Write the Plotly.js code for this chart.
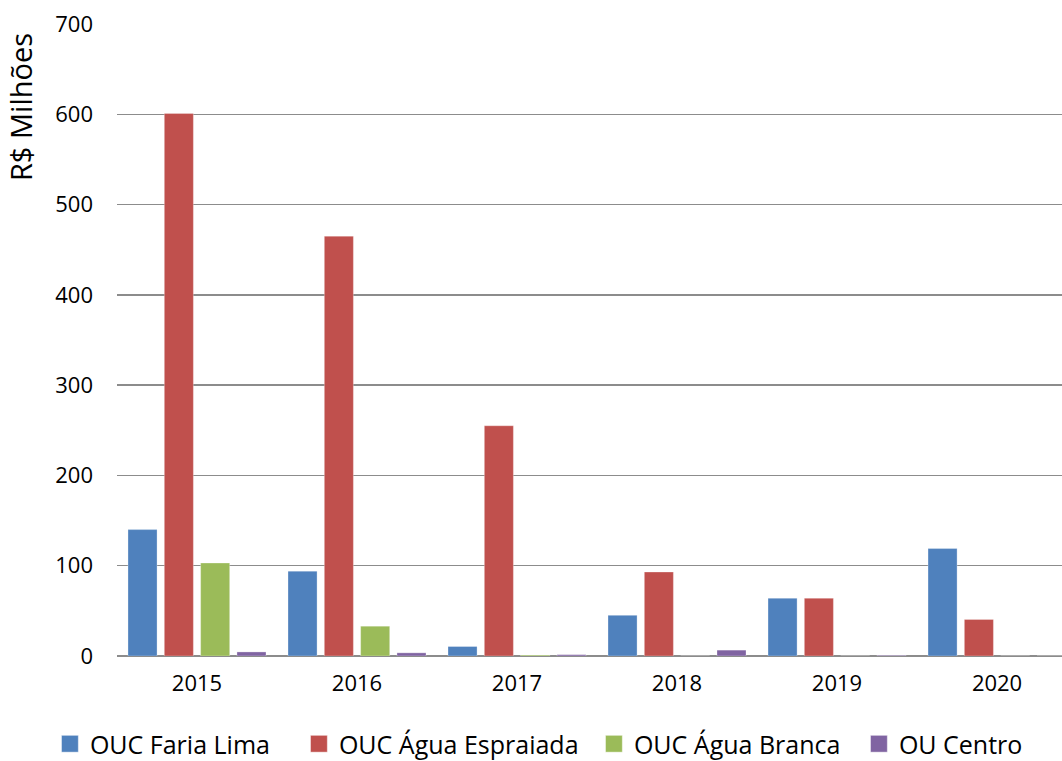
<!DOCTYPE html>
<html><head><meta charset="utf-8">
<script src="https://cdn.plot.ly/plotly-3.0.1.min.js"></script>
<style>html,body{margin:0;padding:0;background:#fff;}#chart{width:1062px;height:761px;}</style>
</head><body><div id="chart"></div>
<script>
const years = ['2015','2016','2017','2018','2019','2020'];
const fariaLima = [140, 94, 10.5, 45, 64, 119];
const aguaEspraiada = [601, 465, 255, 93, 64, 40.5];
const aguaBranca = [103, 33, 1, 0, 0, 0];
const ouCentro = [4.5, 3.5, 1.5, 6.5, 0.7, 0];
const seriesNames = ['OUC Faria Lima', 'OUC Água Espraiada', 'OUC Água Branca', 'OU Centro'];
const colors = ['#4F81BD', '#C0504D', '#9BBB59', '#8064A2'];
const yTicks = [0, 100, 200, 300, 400, 500, 600, 700];
const legendOffsets = [0, 249, 544, 809];
const legendDrop = 6;

const font = '"Open Sans", sans-serif';
const data = [fariaLima, aguaEspraiada, aguaBranca, ouCentro].map((v, i) => ({
  type: 'bar', x: years, y: v, name: seriesNames[i],
  marker: {color: colors[i], line: {color: 'rgba(255,255,255,0.6)', width: 0.5}}
}));

const layout = {
  width: 1062, height: 761,
  margin: {l: 117, r: 0, t: 24, b: 105},
  paper_bgcolor: '#fff', plot_bgcolor: '#fff',
  font: {family: font, size: 22, color: '#000'},
  barmode: 'group', bargap: 0.092, bargroupgap: 0.2,
  xaxis: {type: 'category', range: [-0.5, 5.406], showgrid: false, showline: false,
    ticks: '', tickfont: {size: 22}, ticklabelstandoff: 12, fixedrange: true},
  yaxis: {range: [0, 700], tickvals: yTicks, showgrid: true, gridcolor: '#8C8C8C', gridwidth: 1.3,
    zeroline: true, zerolinecolor: '#8C8C8C', zerolinewidth: 1.3, showline: false,
    ticks: '', ticklabelstandoff: 23, tickfont: {size: 22}},
  showlegend: true,
  legend: {orientation: 'h', xref: 'container', yref: 'container', x: 0.047, xanchor: 'left',
    y: 0, yanchor: 'bottom', font: {size: 25}, traceorder: 'normal', itemwidth: 30,
    tracegroupgap: 0},
  annotations: [{text: 'R$ Milhões', xref: 'paper', yref: 'paper', x: -0.102, y: 0.868,
    xanchor: 'center', yanchor: 'middle', textangle: -90, showarrow: false, font: {size: 29}}]
};
Plotly.newPlot('chart', data, layout, {displayModeBar: false, staticPlot: true}).then(() => {
  document.querySelectorAll('.legendpoints path').forEach(p => {
    const t = p.getAttribute('transform') || '';
    p.setAttribute('transform', t + ' scale(1.4)');
  });
  const sb = document.querySelector('.legend .scrollbox');
  if (sb) sb.removeAttribute('clip-path');
  const items = document.querySelectorAll('.legend .traces');
  items.forEach((g, i) => {
    const m = /translate\(([-\d.]+)[ ,]*([-\d.]*)\)/.exec(g.getAttribute('transform') || '');
    const y = (m && m[2] ? parseFloat(m[2]) : 0) + legendDrop;
    g.setAttribute('transform', `translate(${legendOffsets[i]},${y})`);
  });
});
</script></body></html>
